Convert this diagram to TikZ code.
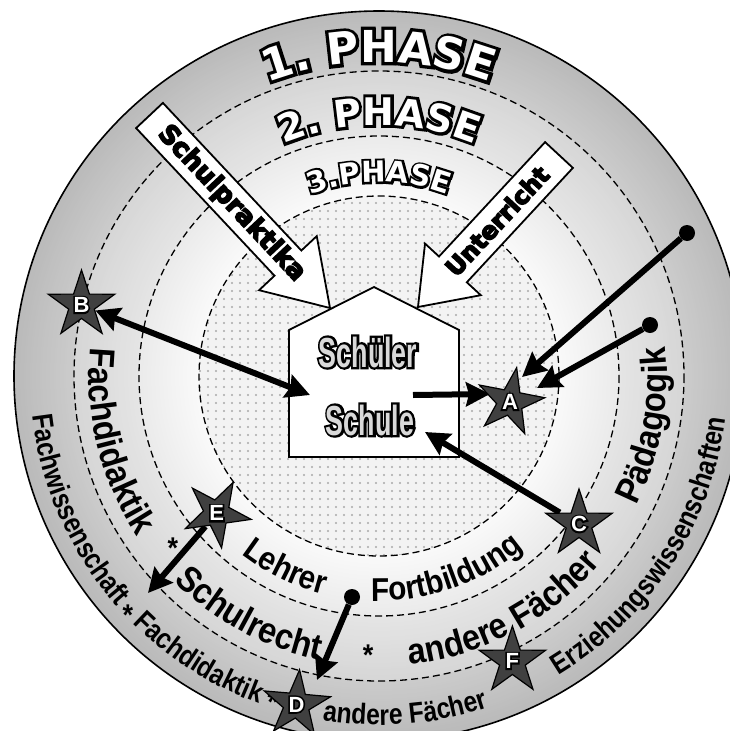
\documentclass[tikz,border=0pt]{standalone}
\usepackage{fontspec}
\usetikzlibrary{arrows.meta,shapes.geometric,decorations.text,patterns.meta}
\newfontfamily\phO{DejaVu Sans Bold}[FakeBold=15]
\newfontfamily\phF{DejaVu Sans Bold}
\newfontfamily\heavy{DejaVu Sans Bold}[FakeBold=6]
\newfontfamily\ringA{Liberation Sans Bold}[FakeStretch=0.85]
\newfontfamily\ringB{Liberation Sans Bold}[FakeStretch=0.9]
\newfontfamily\houseO{Liberation Sans Bold}[FakeStretch=0.64,FakeBold=11]
\newfontfamily\houseF{Liberation Sans Bold}[FakeStretch=0.64]
\newfontfamily\starO{Liberation Sans Bold}[FakeBold=15]
\newfontfamily\starF{Liberation Sans Bold}
\definecolor{starfill}{HTML}{404040}
\definecolor{housetxt}{HTML}{D9D9D9}
\definecolor{dotgray}{HTML}{A8A8A8}
\definecolor{innerfill}{HTML}{F3F3F3}
\pgfdeclarelayer{back}\pgfdeclarelayer{mid}\pgfdeclarelayer{arr}
\pgfsetlayers{back,mid,arr,main}
\newcommand\outl[4]{\rlap{\color{black}#1#4}{\color{#3}#2#4}}
\newcommand\starlet[1]{\outl{\starO\fontsize{22}{22}\selectfont}{\starF\fontsize{22}{22}\selectfont}{white}{#1}}
\tikzset{
  dashcirc/.style={line width=1.3pt, dash pattern=on 7pt off 4pt},
  starnode/.style={star, star points=5, star point ratio=2.6, minimum size=70pt, inner sep=0pt,
    fill=starfill, draw=black, line width=1.2pt},
  dotnode/.style={circle, fill=black, minimum size=16pt, inner sep=0pt},
  thickarr/.style={line width=6pt, -{Stealth[length=24pt,width=24pt,inset=3pt]}},
  blockarrow/.style={fill=white, draw=black, line width=1.8pt, line join=miter},
  ast/.style={anchor=base, yshift=-15pt, inner sep=0pt, font=\ringB\fontsize{30}{30}\selectfont},
}
\begin{document}
\begin{tikzpicture}[x=1pt,y=-1pt]
\useasboundingbox (0,0) rectangle (730,731);
\coordinate (C) at (379,376);

\begin{pgfonlayer}{back}
\foreach \r in {365,363,...,305} {
  \pgfmathsetmacro\g{0.73+(365-\r)/60*0.07}
  \definecolor{rc}{gray}{\g}
  \fill[rc] (C) circle[radius=\r];
}
\foreach \r in {305,303,...,240} {
  \pgfmathsetmacro\g{0.84+(305-\r)/65*0.06}
  \definecolor{rc}{gray}{\g}
  \fill[rc] (C) circle[radius=\r];
}
\foreach \r in {240,238,...,180} {
  \pgfmathsetmacro\g{0.92+(240-\r)/60*0.06}
  \definecolor{rc}{gray}{\g}
  \fill[rc] (C) circle[radius=\r];
}
\fill[innerfill] (C) circle[radius=180];
\fill[pattern={Dots[distance=8pt,radius=1.1pt]}, pattern color=dotgray] (C) circle[radius=180];
\draw[dashcirc] (C) circle[radius=305];
\draw[dashcirc] (C) circle[radius=240];
\draw[dashcirc] (C) circle[radius=180];
\draw[line width=1.6pt] (C) circle[radius=365];

% phase titles (outline + fill)
\path[decorate, decoration={text along path, text align=center,
  text={|\phO\fontsize{44}{44}\selectfont\color{black}|1. PHASE}}]
  (C) ++(-125:314) arc[start angle=-125, end angle=-55, radius=314];
\path[decorate, decoration={text along path, text align=center,
  text={|\phF\fontsize{44}{44}\selectfont\color{white}|1. PHASE}}]
  (C) ++(-125:314) arc[start angle=-125, end angle=-55, radius=314];
\path[decorate, decoration={text along path, text align=center,
  text={|\phO\fontsize{38}{38}\selectfont\color{black}|2. PHASE}}]
  (C) ++(-130:251) arc[start angle=-130, end angle=-50, radius=251];
\path[decorate, decoration={text along path, text align=center,
  text={|\phF\fontsize{38}{38}\selectfont\color{white}|2. PHASE}}]
  (C) ++(-130:251) arc[start angle=-130, end angle=-50, radius=251];
\path[decorate, decoration={text along path, text align=center,
  text={|\phO\fontsize{29}{29}\selectfont\color{black}|3.PHASE}}]
  (C) ++(-135:194) arc[start angle=-135, end angle=-45, radius=194];
\path[decorate, decoration={text along path, text align=center,
  text={|\phF\fontsize{29}{29}\selectfont\color{white}|3.PHASE}}]
  (C) ++(-135:194) arc[start angle=-135, end angle=-45, radius=194];

% outer ring texts
\path[decorate, decoration={text along path, text align=center,
  text={|\ringA\fontsize{29}{29}\selectfont|Fachwissenschaft}}]
  (C) ++(200:349) arc[start angle=200, end angle=112, radius=349];
\path[decorate, decoration={text along path, text align=center,
  text={|\ringA\fontsize{29}{29}\selectfont|Fachdidaktik}}]
  (C) ++(160:349) arc[start angle=160, end angle=85, radius=349];
\path[decorate, decoration={text along path, text align=center,
  text={|\ringA\fontsize{29}{29}\selectfont|andere Fächer}}]
  (C) ++(125:349) arc[start angle=125, end angle=46, radius=349];
\path[decorate, decoration={text along path, text align=center,
  text={|\ringA\fontsize{29}{29}\selectfont|Erziehungswissenschaften}}]
  (C) ++(95:349) arc[start angle=95, end angle=-29, radius=349];

% middle ring texts
\path[decorate, decoration={text along path, text align=center,
  text={|\ringB\fontsize{36}{36}\selectfont|Fachdidaktik}}]
  (C) ++(210:290) arc[start angle=210, end angle=122, radius=290];
\path[decorate, decoration={text along path, text align=center,
  text={|\ringB\fontsize{36}{36}\selectfont|Schulrecht}}]
  (C) ++(158:290) arc[start angle=158, end angle=79, radius=290];
\path[decorate, decoration={text along path, text align=center,
  text={|\ringB\fontsize{36}{36}\selectfont|andere Fächer}}]
  (C) ++(110:290) arc[start angle=110, end angle=14, radius=290];
\path[decorate, decoration={text along path, text align=center,
  text={|\ringB\fontsize{36}{36}\selectfont|Pädagogik}}]
  (C) ++(50:288) arc[start angle=50, end angle=-29, radius=288];

% third ring texts
\path[decorate, decoration={text along path, text align=center,
  text={|\ringB\fontsize{33}{33}\selectfont|Lehrer}}]
  (C) ++(150:225) arc[start angle=150, end angle=82, radius=225];
\path[decorate, decoration={text along path, text align=center,
  text={|\ringB\fontsize{33}{33}\selectfont|Fortbildung}}]
  (C) ++(120:225) arc[start angle=120, end angle=22, radius=225];

% asterisks
\node[ast] (s1) at (173,543) {*};
\node[ast] (s2) at (368,650) {*};
\node[ast] (s3) at (128,610) {*};
\node[ast] (s4) at (273,697) {*};
\end{pgfonlayer}

\begin{pgfonlayer}{mid}
% house
\draw[fill=white, line width=1.8pt, line join=miter] (289,457) -- (459,457) -- (459,330) -- (374,287) -- (289,330) -- cycle;
\node (schueler) at (368,352) {\outl{\houseO\fontsize{42}{42}\selectfont}{\houseF\fontsize{42}{42}\selectfont}{housetxt}{Schüler}};
\node (schule) at (370,420) {\outl{\houseO\fontsize{42}{42}\selectfont}{\houseF\fontsize{42}{42}\selectfont}{housetxt}{Schule}};
% block arrows
\draw[blockarrow] (162.9,102.9) -- (301.35,250.55) -- (316.75,236.12) -- (330,308) -- (259.1,290.2) -- (274.5,275.7) -- (136.1,128.1) -- cycle;
\node[rotate=-46.85] (praktika) at (231.5,203.5) {\heavy\fontsize{26}{26}\selectfont Schulpraktika};
\draw[blockarrow] (545.1,142.1) -- (439,256.5) -- (425.05,243.6) -- (418,307) -- (480.8,295.2) -- (466.8,282.3) -- (572.9,167.9) -- cycle;
\node[rotate=47.1] (unterricht) at (497,221) {\heavy\fontsize{24}{24}\selectfont Unterricht};
\end{pgfonlayer}

% stars and dots
\node[starnode, shape border rotate=-11] (A) at (510,402) {\starlet{A}};
\node[starnode] (B) at (81.5,305) {\starlet{B}};
\node[starnode] (Cs) at (579,524) {\starlet{C}};
\node[starnode, shape border rotate=-5] (D) at (296.5,704.6) {\starlet{D}};
\node[starnode, shape border rotate=-28] (E) at (216.7,513.3) {\starlet{E}};
\node[starnode] (F) at (512.4,661) {\starlet{F}};
\node[dotnode] (d1) at (687,233) {};
\node[dotnode] (d2) at (650,325) {};
\node[dotnode] (d3) at (352,597) {};

\coordinate (hB) at (310,395);
\coordinate (hA) at (413,395);
\coordinate (tA0) at (490,394);
\coordinate (tA1) at (522,377);
\coordinate (tA2) at (537,388);
\coordinate (hC) at (425,432);
\coordinate (tE) at (148,593);
\coordinate (tD) at (317,680);

\begin{pgfonlayer}{arr}
\draw[line width=6pt, {Stealth[length=24pt,width=24pt,inset=3pt]}-{Stealth[length=24pt,width=24pt,inset=3pt]}] (B) -- (hB);
\draw[thickarr] (hA) -- (tA0);
\draw[thickarr] (d1) -- (tA1);
\draw[thickarr] (d2) -- (tA2);
\draw[thickarr] (Cs) -- (hC);
\draw[thickarr] (E) -- (tE);
\draw[thickarr] (d3) -- (tD);
\end{pgfonlayer}
\end{tikzpicture}
\end{document}
